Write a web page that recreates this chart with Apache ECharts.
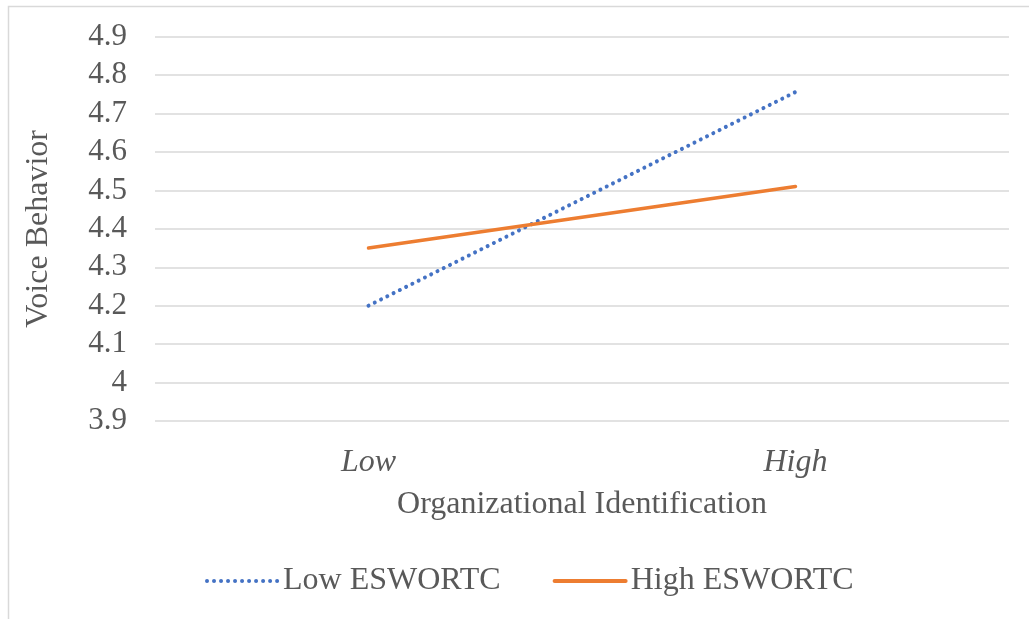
<!DOCTYPE html>
<html><head><meta charset="utf-8">
<script src="https://cdn.jsdelivr.net/npm/echarts@6/dist/echarts.min.js"></script>
<style>html,body{margin:0;padding:0;background:#fff}#c{width:1029px;height:619px}</style>
</head><body><div id="c"></div>
<script>
const categories = ['Low', 'High'];
const lowESWORTC = [4.2, 4.756];
const highESWORTC = [4.35, 4.51];
const yMin = 3.9, yMax = 4.9, yStep = 0.1;

const font = 'Liberation Serif, Times New Roman, serif';
const txt = '#595959';
const chart = echarts.init(document.getElementById('c'));
chart.setOption({
  animation: false,
  backgroundColor: '#fff',
  graphic: [{type:'rect', shape:{x:8.5,y:6.5,width:1100,height:700}, style:{fill:'none', stroke:'#d9d9d9', lineWidth:1.5}, silent:true}],
  grid: {left: 155, right: 20, top: 36.7, bottom: 198, containLabel: false},
  xAxis: {
    type: 'category', data: categories, boundaryGap: true,
    axisLine: {show: false}, axisTick: {show: false},
    axisLabel: {fontFamily: font, fontSize: 32, fontStyle: 'italic', color: txt, margin: 26},
    name: 'Organizational Identification', nameLocation: 'middle', nameGap: 68,
    nameTextStyle: {fontFamily: font, fontSize: 32, color: txt}
  },
  yAxis: {
    type: 'value', min: yMin, max: yMax, interval: yStep,
    axisLine: {show: false}, axisTick: {show: false},
    axisLabel: {fontFamily: font, fontSize: 31, color: txt, margin: 28,
      formatter: v => { const r = Math.round(v*10)/10; return String(r); }},
    splitLine: {lineStyle: {color: '#d9d9d9', width: 1.5}},
    name: 'Voice Behavior', nameLocation: 'middle', nameGap: 100, nameRotate: 90,
    nameTextStyle: {fontFamily: font, fontSize: 32, color: txt}
  },
  legend: {
    top: 560, left: 200, itemWidth: 71, itemHeight: 14, itemGap: 52,
    itemStyle: {opacity: 0},
    lineStyle: {width: 4, cap: 'round'},
    textStyle: {fontFamily: font, fontSize: 32, color: txt},
    data: ['Low ESWORTC', 'High ESWORTC']
  },
  series: [
    {name: 'Low ESWORTC', type: 'line', data: lowESWORTC, symbol: 'none',
     lineStyle: {color: '#4472c4', width: 4, type: [0.01, 7], cap: 'round'}, itemStyle: {color: '#4472c4'}},
    {name: 'High ESWORTC', type: 'line', data: highESWORTC, symbol: 'none',
     lineStyle: {color: '#ed7d31', width: 3.5, cap: 'round'}, itemStyle: {color: '#ed7d31'}}
  ]
});
</script></body></html>
